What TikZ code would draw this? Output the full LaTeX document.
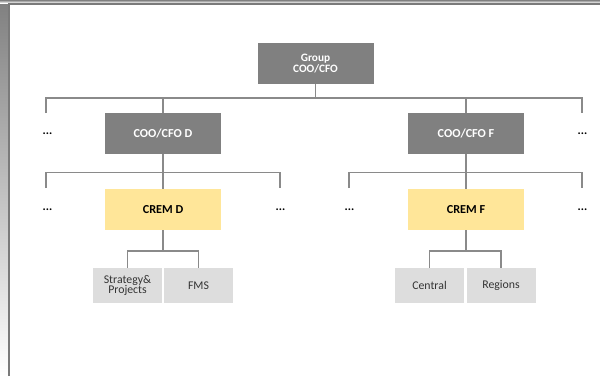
\documentclass[tikz,border=0pt]{standalone}
\usepackage{fontspec}
\setmainfont{Carlito}
\definecolor{boxdark}{HTML}{808080}
\definecolor{boxyellow}{HTML}{FFE699}
\definecolor{boxlight}{HTML}{DDDDDD}
\definecolor{linegray}{HTML}{8A8A8A}
\definecolor{framegray}{HTML}{7A7A7A}
\definecolor{shade}{HTML}{E6E6E6}
\tikzset{
  darkbox/.style={fill=boxdark, text=white, font=\fontsize{12.2}{12}\selectfont\bfseries, minimum width=116, minimum height=41, inner sep=0, align=center},
  groupbox/.style={darkbox, font=\fontsize{11.3}{10.5}\selectfont\bfseries},
  yellowbox/.style={fill=boxyellow, text=black, font=\fontsize{12.2}{12}\selectfont\bfseries, minimum width=116, minimum height=41, inner sep=0, align=center},
  lightbox/.style={fill=boxlight, text=black!80, font=\fontsize{11.8}{10.5}\selectfont, minimum width=69, minimum height=35, inner sep=0, align=center},
  dots/.style={font=\fontsize{12}{12}\selectfont\bfseries, inner sep=0, text=black},
  conn/.style={draw=linegray, line width=1.7}
}
\begin{document}
\begin{tikzpicture}[x=1pt,y=-1pt]
\useasboundingbox (0,0) rectangle (600,376);
\fill[white] (0,0) rectangle (600,376);
% page frame
\fill[shade] (0,0) rectangle (8,376);
\fill[shade] (0,0) rectangle (600,3);
\draw[framegray, line width=1.6] (8.8,376) -- (8.8,4) -- (600,4);

% nodes
\node[groupbox] (g) at (315.5,63.5) {Group\\COO/CFO};
\node[darkbox] (cd) at (163,133.5) {COO/CFO D};
\node[darkbox] (cf) at (466,133.5) {COO/CFO F};
\node[yellowbox] (crd) at (163,209.5) {CREM D};
\node[yellowbox] (crf) at (466,209.5) {CREM F};
\node[lightbox] (sp) at (127.5,285.5) {Strategy\&\\Projects};
\node[lightbox] (fms) at (198.5,285.5) {FMS};
\node[lightbox] (cen) at (429.5,285.5) {Central};
\node[lightbox] (reg) at (501,285.5) {Regions};

\node[dots] (d1) at (47.5,133.5) {...};
\node[dots] (d2) at (582.5,133.5) {...};
\node[dots] (d3) at (47.5,209.5) {...};
\node[dots] (d4) at (280.5,209.5) {...};
\node[dots] (d5) at (349.5,209.5) {...};
\node[dots] (d6) at (582.5,209.5) {...};

% top bus
\coordinate (b1l) at (46,98);
\coordinate (b1r) at (582,98);
\coordinate (t1) at (46,113);
\coordinate (t2) at (582,113);
\draw[conn] (t1) -- (b1l) -- (b1r) -- (t2);
\draw[conn] (g.south) -- (g.south |- b1l);
\draw[conn] (cd.north) -- (cd.north |- b1l);
\draw[conn] (cf.north) -- (cf.north |- b1l);

% second level buses
\coordinate (b2l) at (46,172.5);
\coordinate (b2r) at (280,172.5);
\coordinate (t3) at (46,188);
\coordinate (t4) at (280,188);
\draw[conn] (t3) -- (b2l) -- (b2r) -- (t4);
\draw[conn] (cd.south) -- (crd.north);

\coordinate (b3l) at (349,172.5);
\coordinate (b3r) at (582,172.5);
\coordinate (t5) at (349,188);
\coordinate (t6) at (582,188);
\draw[conn] (t5) -- (b3l) -- (b3r) -- (t6);
\draw[conn] (cf.south) -- (crf.north);

% third level
\coordinate (b4) at (163,251);
\draw[conn] (crd.south) -- (b4);
\draw[conn] (sp.north) -- (sp.north |- b4) -- (fms.north |- b4) -- (fms.north);
\coordinate (b5) at (466,251);
\draw[conn] (crf.south) -- (b5);
\draw[conn] (cen.north) -- (cen.north |- b5) -- (reg.north |- b5) -- (reg.north);
\end{tikzpicture}
\end{document}
